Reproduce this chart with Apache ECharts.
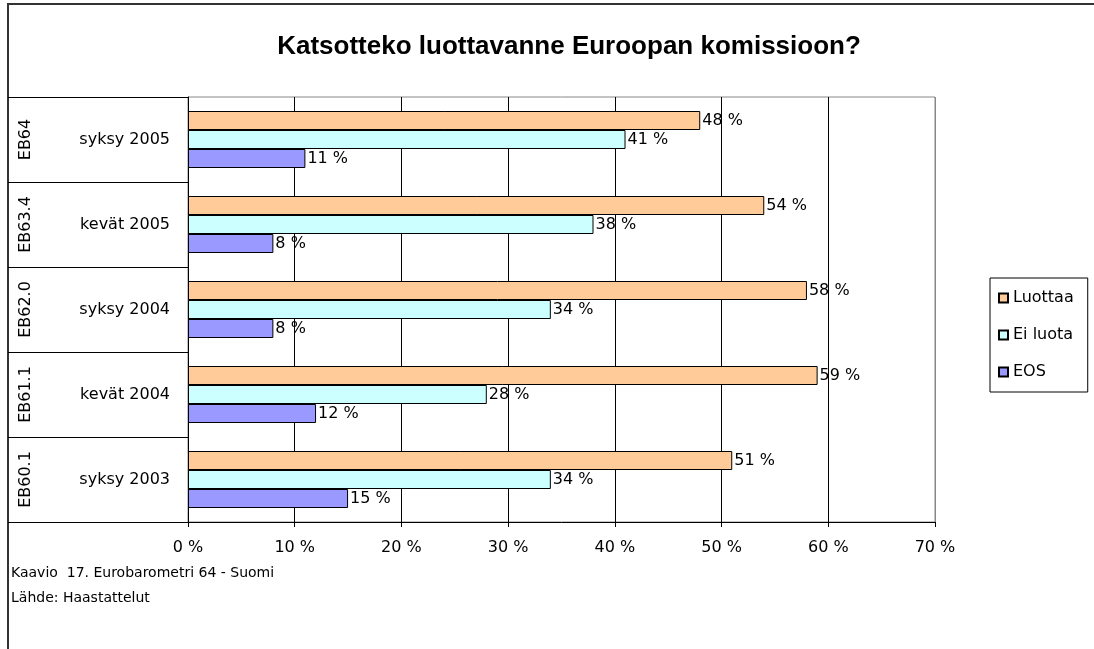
<!DOCTYPE html>
<html>
  <head>
    <meta charset="utf-8" />
    <title>Katsotteko luottavanne Euroopan komissioon?</title>
    <script src="https://cdn.jsdelivr.net/npm/echarts@6/dist/echarts.min.js"></script>
    <style>
      html, body { margin: 0; padding: 0; background: #fff; }
    </style>
  </head>
  <body>
    <div id="main" style="width: 1094px; height: 649px"></div>
  </body>

  <script>
    // data, top to bottom as in the picture
    var periods = ["syksy 2005", "kevät 2005", "syksy 2004", "kevät 2004", "syksy 2003"];
    var surveys = ["EB64", "EB63.4", "EB62.0", "EB61.1", "EB60.1"];
    var luottaa = [48, 54, 58, 59, 51];
    var eiLuota = [41, 38, 34, 28, 34];
    var eos = [11, 8, 8, 12, 15];
    var xTicks = [0, 10, 20, 30, 40, 50, 60, 70];

    var bodyFont = "DejaVu Sans";
    var myChart = echarts.init(document.getElementById("main"));

    function barSeries(name, values, color) {
      return {
        name: name,
        type: "bar",
        data: values,
        barWidth: 19,
        barGap: "0%",
        itemStyle: { color: color, borderColor: "#000", borderWidth: 1 },
        label: {
          show: true,
          position: "right",
          distance: 2,
          formatter: "{c} %",
          color: "#000",
          fontFamily: bodyFont,
          fontSize: 16,
        },
      };
    }

    var option = {
      backgroundColor: "#fff",
      animation: false,
      title: {
        text: "Katsotteko luottavanne Euroopan komissioon?",
        left: 564,
        textAlign: "center",
        top: 29,
        textStyle: {
          fontFamily: "Liberation Sans",
          fontWeight: "bold",
          fontSize: 26,
          color: "#000",
        },
      },
      legend: {
        orient: "vertical",
        left: 990,
        top: 278,
        padding: [12, 14, 12, 8],
        itemWidth: 9,
        itemHeight: 9,
        itemGap: 21,
        borderColor: "#000",
        borderWidth: 1,
        icon: "rect",
        textStyle: { fontFamily: bodyFont, fontSize: 16, color: "#000" },
        data: ["Luottaa", "Ei luota", "EOS"],
      },
      grid: {
        left: 188,
        right: 159,
        top: 97,
        bottom: 127,
        show: true,
        borderColor: "#888",
        borderWidth: 1,
      },
      xAxis: {
        type: "value",
        min: xTicks[0],
        max: xTicks[xTicks.length - 1],
        interval: 10,
        axisLine: { show: true, lineStyle: { color: "#000", width: 1 } },
        axisTick: { show: true, length: 5, lineStyle: { color: "#000" } },
        axisLabel: {
          formatter: "{value} %",
          margin: 18,
          color: "#000",
          fontFamily: bodyFont,
          fontSize: 16,
        },
        splitLine: {
          show: true,
          lineStyle: {
            color: ["#000", "#000", "#000", "#000", "#000", "#000", "#000", "#888"],
            width: 1,
          },
        },
      },
      yAxis: [
        {
          type: "category",
          data: periods,
          inverse: true,
          axisLine: { show: true, lineStyle: { color: "#000", width: 1 } },
          axisTick: { show: true, length: 180, lineStyle: { color: "#000" } },
          axisLabel: {
            margin: 18,
            color: "#000",
            fontFamily: bodyFont,
            fontSize: 16,
          },
        },
        {
          type: "category",
          data: surveys,
          inverse: true,
          position: "left",
          offset: 152,
          axisLine: { show: false },
          axisTick: { show: false },
          axisLabel: {
            rotate: 90,
            margin: 2,
            color: "#000",
            fontFamily: bodyFont,
            fontSize: 16,
          },
        },
      ],
      graphic: [
        {
          type: "rect",
          shape: { x: 8, y: 4, width: 1200, height: 800 },
          style: { fill: null, stroke: "#333", lineWidth: 2 },
          silent: true,
        },
        {
          type: "text",
          left: 11,
          top: 566,
          style: {
            text: "Kaavio  17. Eurobarometri 64 - Suomi",
            fontFamily: bodyFont,
            fontSize: 14,
            fill: "#000",
          },
        },
        {
          type: "text",
          left: 11,
          top: 591,
          style: {
            text: "Lähde: Haastattelut",
            fontFamily: bodyFont,
            fontSize: 14,
            fill: "#000",
          },
        },
      ],
      series: [
        barSeries("Luottaa", luottaa, "#FFCC99"),
        barSeries("Ei luota", eiLuota, "#CCFFFF"),
        barSeries("EOS", eos, "#9999FF"),
      ],
    };

    myChart.setOption(option);
  </script>
</html>
